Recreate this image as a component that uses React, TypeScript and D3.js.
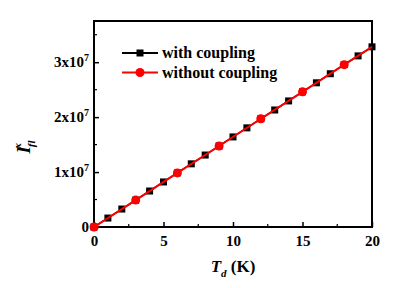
import React, {useRef, useEffect} from "react";
import * as d3 from "d3";

// temperature T_d (K)
const temps = [0, 1, 2, 3, 4, 5, 6, 7, 8, 9, 10, 11, 12, 13, 14, 15, 16, 17, 18, 19, 20];
// I_fl^x with coupling (x 1e7)
const withCoupling = [0, 0.163, 0.327, 0.49, 0.655, 0.82, 0.985, 1.15, 1.31, 1.475, 1.64,
  1.805, 1.97, 2.13, 2.295, 2.46, 2.625, 2.79, 2.955, 3.115, 3.28];
// without coupling (x 1e7)
const noCouplingT = [0, 3, 6, 9, 12, 15, 18, 20];
const noCoupling = [0, 0.49, 0.985, 1.475, 1.97, 2.46, 2.955, 3.28];
const redMarkerT = [0, 3, 6, 9, 12, 15, 18];

const xTicks = [0, 5, 10, 15, 20];
const yTicks = [0, 1, 2, 3];

const W = 407, H = 288;
const margin = {left: 94, right: 35, top: 21, bottom: 61};
const font = "Liberation Serif, Times New Roman, serif";

const App = () => {
  const svgRef = useRef(null);

  useEffect(() => {
    const svg = d3.select(svgRef.current);
    svg.selectAll("*").remove();

    const x = d3.scaleLinear().domain([0, 20]).range([margin.left, W - margin.right]);
    const y = d3.scaleLinear().domain([0, 3.75]).range([H - margin.bottom, margin.top]);

    // x axis
    const xAxis = d3.axisBottom(x).tickValues(xTicks).tickSize(-5).tickPadding(8).tickFormat(d3.format("d"));
    const gx = svg.append("g")
      .attr("transform", `translate(0, ${H - margin.bottom})`)
      .call(xAxis);
    gx.select(".domain").remove();
    gx.selectAll("line").attr("stroke-width", 1.5);
    gx.selectAll("text").style("font-family", font).style("font-weight", "bold").style("font-size", "15px");
    svg.append("g").selectAll("line")
      .data([2.5, 7.5, 12.5, 17.5]).enter().append("line")
      .attr("x1", (d) => x(d)).attr("x2", (d) => x(d))
      .attr("y1", H - margin.bottom).attr("y2", H - margin.bottom - 3)
      .attr("stroke", "black").attr("stroke-width", 1.2);

    // y axis
    const yAxis = d3.axisLeft(y).tickValues(yTicks).tickSize(-5).tickFormat(() => "");
    const gy = svg.append("g")
      .attr("transform", `translate(${margin.left}, 0)`)
      .call(yAxis);
    gy.select(".domain").remove();
    gy.selectAll("line").attr("stroke-width", 1.5);
    svg.append("g").selectAll("line")
      .data([0.5, 1.5, 2.5, 3.5]).enter().append("line")
      .attr("x1", margin.left).attr("x2", margin.left + 3)
      .attr("y1", (d) => y(d)).attr("y2", (d) => y(d))
      .attr("stroke", "black").attr("stroke-width", 1.2);

    const ylab = svg.append("g").selectAll("text")
      .data(yTicks).enter().append("text")
      .attr("x", margin.left - 5)
      .attr("y", (d) => y(d) + 5)
      .attr("text-anchor", "end")
      .style("font-family", font).style("font-weight", "bold").style("font-size", "15px");
    ylab.each(function (d) {
      const t = d3.select(this);
      if (d === 0) {
        t.text("0");
      } else {
        t.append("tspan").text(`${d}x10`);
        t.append("tspan").attr("dy", -6).style("font-size", "10px").text("7");
      }
    });

    // frame
    svg.append("rect")
      .attr("x", margin.left).attr("y", margin.top)
      .attr("width", W - margin.left - margin.right)
      .attr("height", H - margin.top - margin.bottom)
      .attr("fill", "none").attr("stroke", "black").attr("stroke-width", 2);

    // series: with coupling
    const line = d3.line().x((d) => x(d[0])).y((d) => y(d[1]));
    const blackPts = temps.map((t, i) => [t, withCoupling[i]]);
    svg.append("path").datum(blackPts).attr("d", line)
      .attr("fill", "none").attr("stroke", "black").attr("stroke-width", 1.5);
    svg.append("g").selectAll("rect")
      .data(blackPts).enter().append("rect")
      .attr("x", (d) => x(d[0]) - 3.5).attr("y", (d) => y(d[1]) - 3.5)
      .attr("width", 7).attr("height", 7).attr("fill", "black");

    // series: without coupling
    const redPts = noCouplingT.map((t, i) => [t, noCoupling[i]]);
    svg.append("path").datum(redPts).attr("d", line)
      .attr("fill", "none").attr("stroke", "#ff0000").attr("stroke-width", 2);
    svg.append("g").selectAll("circle")
      .data(redPts.filter((d) => redMarkerT.includes(d[0]))).enter().append("circle")
      .attr("cx", (d) => x(d[0])).attr("cy", (d) => y(d[1]))
      .attr("r", 4.5).attr("fill", "#ff0000");

    // legend
    const leg = svg.append("g");
    const legend = [
      {label: "with coupling", color: "black", shape: "square", y: 53},
      {label: "without coupling", color: "#ff0000", shape: "circle", y: 72.5},
    ];
    legend.forEach((l) => {
      leg.append("line").attr("x1", 122).attr("x2", 158).attr("y1", l.y).attr("y2", l.y)
        .attr("stroke", l.color).attr("stroke-width", 2);
      if (l.shape === "square") {
        leg.append("rect").attr("x", 136.5).attr("y", l.y - 3.5).attr("width", 7).attr("height", 7).attr("fill", l.color);
      } else {
        leg.append("circle").attr("cx", 140).attr("cy", l.y).attr("r", 4.5).attr("fill", l.color);
      }
      leg.append("text").attr("x", 162).attr("y", l.y + 5)
        .style("font-family", font).style("font-weight", "bold").style("font-size", "16px")
        .text(l.label);
    });

    // axis titles
    const xt = svg.append("text").attr("x", 233).attr("y", 272)
      .attr("text-anchor", "middle")
      .style("font-family", font).style("font-weight", "bold").style("font-size", "17px");
    xt.append("tspan").style("font-style", "italic").text("T");
    xt.append("tspan").style("font-style", "italic").style("font-size", "11px").attr("dy", 5).text("d");
    xt.append("tspan").attr("dy", -5).text(" (K)");

    const yt = svg.append("text")
      .attr("transform", "translate(30, 147) rotate(-90)")
      .attr("text-anchor", "middle")
      .style("font-family", font).style("font-weight", "bold").style("font-style", "italic").style("font-size", "19px");
    yt.append("tspan").text("I");
    yt.append("tspan").style("font-size", "11px").attr("dy", 5).attr("dx", -1).text("fl");
    yt.append("tspan").style("font-size", "11px").attr("dy", -14).attr("dx", -8).text("x");
  }, []);

  return (
    <div>
      <svg ref={svgRef} width={W} height={H} style={{position: "absolute", left: 0, top: 0}}></svg>
    </div>
  );
};

export default App;
